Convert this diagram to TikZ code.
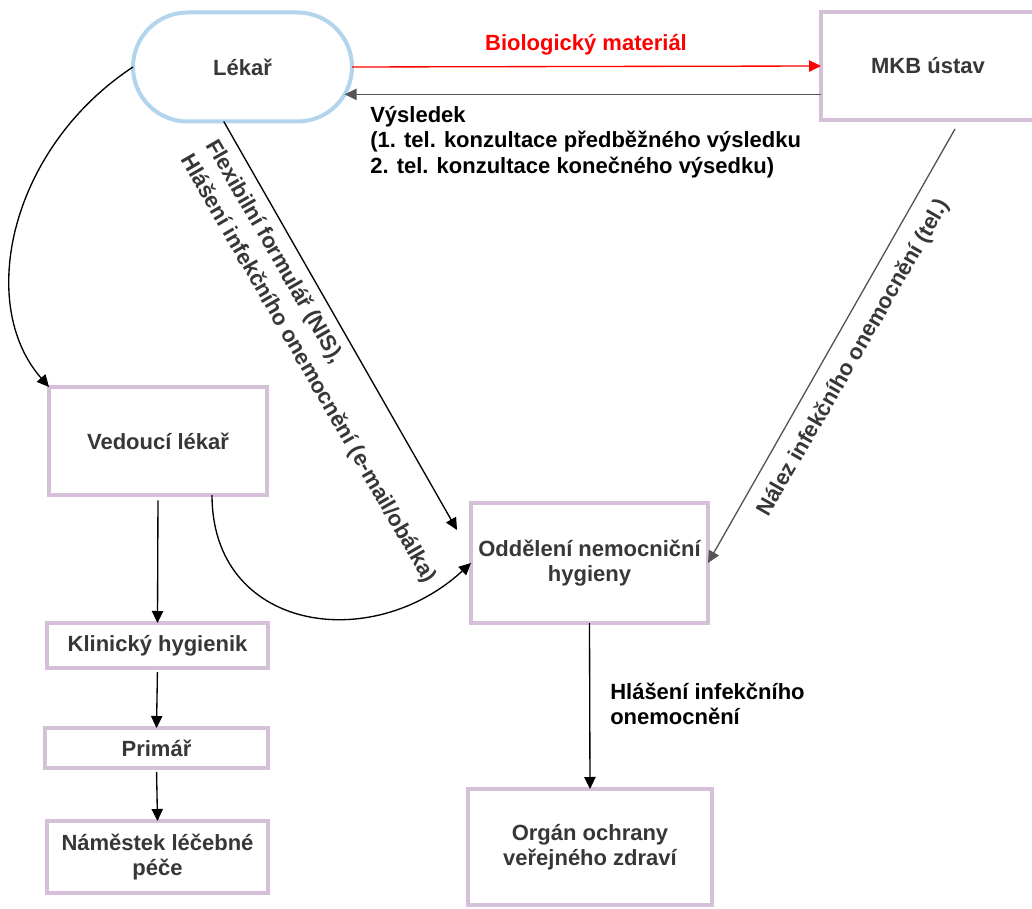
\documentclass[tikz,border=0pt]{standalone}
\usepackage{fontspec}
\setmainfont{Liberation Sans}
\usetikzlibrary{arrows.meta,shapes.misc,calc}
\newlength\pxu
\setlength\pxu{0.75pt}
\definecolor{boxc}{RGB}{214,192,217}
\definecolor{pillc}{RGB}{178,212,236}
\definecolor{txt}{RGB}{55,55,55}
\definecolor{grayline}{RGB}{85,85,85}
\begin{document}
\begin{tikzpicture}[x=0.75pt,y=-0.75pt,
  fnt/.style={font=\fontsize{16.5}{19}\selectfont\bfseries},
  pill/.style={rounded rectangle, draw=pillc, line width=3pt, fill=white,
    minimum width=219\pxu, minimum height=109\pxu, inner sep=0pt, outer sep=0pt, text=txt, fnt},
  box/.style={rectangle, draw=boxc, line width=3pt, fill=white, inner sep=0pt, outer sep=0pt,
    align=center, text=txt, fnt},
  lbl/.style={inner sep=0pt, fnt},
  arr/.style={line width=1pt, -{Triangle[length=9pt,width=8.5pt]}},
]
\useasboundingbox (0,0) rectangle (1032,909);

% nodes
\node[pill] (lekar) at (242.5,67) {Lékař};
\node[box, minimum width=214\pxu, minimum height=108\pxu] (mkb) at (928,66) {MKB ústav};
\node[box, minimum width=218\pxu, minimum height=108\pxu] (ved) at (158,441) {Vedoucí lékař};
\node[box, minimum width=221\pxu, minimum height=45\pxu] (klin) at (157.5,645.5) {Klinický hygienik};
\node[box, minimum width=223\pxu, minimum height=40\pxu] (prim) at (156.5,748) {Primář};
\node[box, minimum width=221\pxu, minimum height=72\pxu] (nam) at (157.5,857) {Náměstek léčebné\\péče};
\node[box, minimum width=237\pxu, minimum height=120\pxu] (odd) at (589.5,563) {Oddělení nemocniční\\hygieny};
\node[box, minimum width=244\pxu, minimum height=116\pxu] (org) at (590,847) {Orgán ochrany\\veřejného zdraví};

% connectors
\draw[arr, red] (lekar.east) -- (mkb.west);
\node[lbl, text=red] (bio) at (586,45) {Biologický materiál};

\draw[arr, grayline] (mkb.west |- lekar.-15) -- (lekar.-15);
\node[lbl, anchor=west, align=left, text=black] (res) at (370,142)
  {Výsledek\\(1. tel. konzultace předběžného výsledku\\2. tel. konzultace konečného výsedku)};

\draw[arr] (lekar.west) .. controls +(-123,81) and +(-73,-83) .. (ved.north west);

\draw[arr] (lekar.251) -- ($(odd.north west)+(-14,27)$);
\node[lbl, rotate=-60, align=left, text=txt, font=\fontsize{16.5}{22}\selectfont\bfseries] (flex) at (320.7,361.7)
  {Flexibilní formulář (NIS),\\Hlášení infekčního onemocnění (e-mail/obálka)};

\draw[arr, grayline] ($(mkb.south)+(27,9)$) -- (odd.east);
\node[lbl, rotate=60, text=txt] (nalez) at (854,358) {Nález infekčního onemocnění (tel.)};

\draw[arr] (ved.-45) .. controls +(0,136) and +(-100,92) .. (odd.west);

\draw[arr, shorten <=4pt] (ved.south) -- (klin.north);
\draw[arr, shorten <=3pt] (klin.south) -- (prim.north);
\draw[arr, shorten <=3pt] (prim.south) -- (nam.north);

\draw[arr] (odd.south) -- (org.north);
\node[lbl, anchor=west, align=left, text=black] (hlas) at (610,704)
  {Hlášení infekčního\\onemocnění};
\end{tikzpicture}
\end{document}
